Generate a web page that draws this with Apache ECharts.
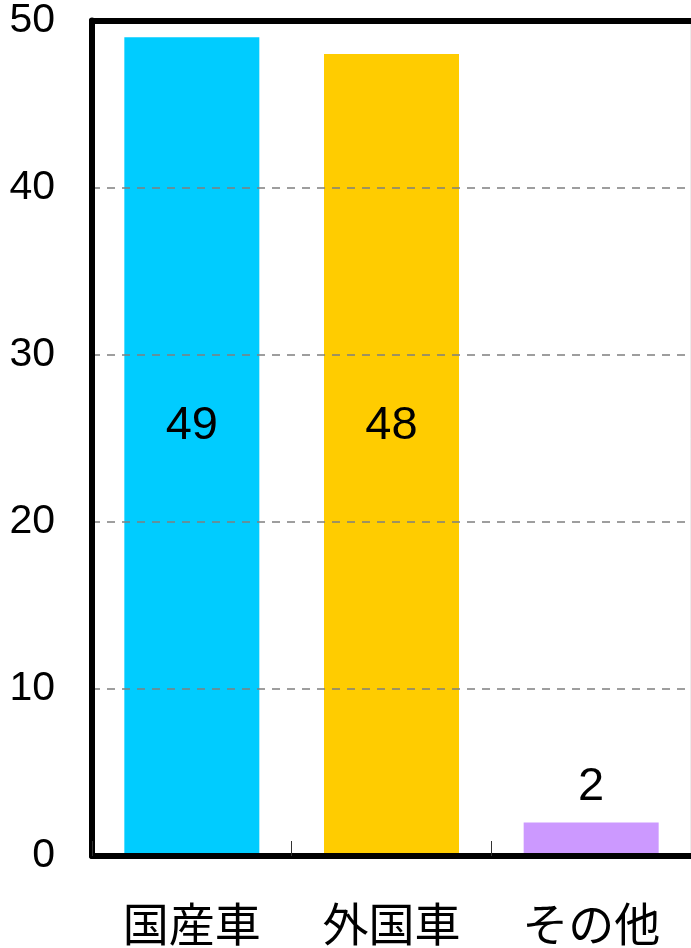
<!DOCTYPE html>
<html>
<head>
<meta charset="utf-8">
<script src="https://cdn.jsdelivr.net/npm/echarts@6/dist/echarts.min.js"></script>
<style>
html,body{margin:0;padding:0;background:#fff;}
#c{width:691px;height:948px;}
</style>
</head>
<body>
<div id="c"></div>
<script>
const categories = ['国産車', '外国車', 'その他'];
const values = [49, 48, 2];
const barColors = ['#00CCFF', '#FFCC00', '#CC99FF'];
const yTicks = [0, 10, 20, 30, 40, 50];

const chart = echarts.init(document.getElementById('c'), null, {renderer: 'canvas'});
const data = values.map((v, i) => {
  const item = {value: v, itemStyle: {color: barColors[i]}};
  if (v < 10) {
    item.label = {position: 'top', distance: 12};
  }
  return item;
});
chart.setOption({
  animation: false,
  backgroundColor: '#fff',
  grid: {left: 92, right: 0, top: 20, bottom: 92, show: true, borderColor: '#d9d9d9', borderWidth: 1, backgroundColor: 'transparent'},
  xAxis: [{
    type: 'category',
    data: categories,
    position: 'bottom',
    axisLine: {lineStyle: {color: '#000', width: 6}},
    axisTick: {show: true, inside: true, length: 15, lineStyle: {color: '#333', width: 1}},
    axisLabel: {fontSize: 46, color: '#000', margin: 45, fontFamily: '"Noto Sans CJK JP", sans-serif'},
    z: 10
  }, {
    type: 'category',
    data: categories,
    position: 'top',
    axisLine: {lineStyle: {color: '#000', width: 6}},
    axisTick: {show: false},
    axisLabel: {show: false},
    z: 10
  }],
  yAxis: {
    type: 'value',
    min: yTicks[0],
    max: yTicks[yTicks.length - 1],
    interval: 10,
    axisLine: {show: true, lineStyle: {color: '#000', width: 6}},
    axisTick: {show: false},
    axisLabel: {fontSize: 41, color: '#000', margin: 37, fontFamily: '"Liberation Sans", Arial, sans-serif', verticalAlign: 'middle', padding: [12, 0, 0, 0]},
    splitLine: {show: true, lineStyle: {color: '#7f7f7f', width: 1.5, type: [8, 7]}},
    z: 10
  },
  series: [{
    type: 'bar',
    data: data,
    barWidth: 135,
    label: {
      show: true,
      position: 'insideBottom',
      distance: 406,
      fontSize: 47,
      color: '#000',
      fontFamily: '"Liberation Sans", Arial, sans-serif'
    }
  }]
});
</script>
</body>
</html>
